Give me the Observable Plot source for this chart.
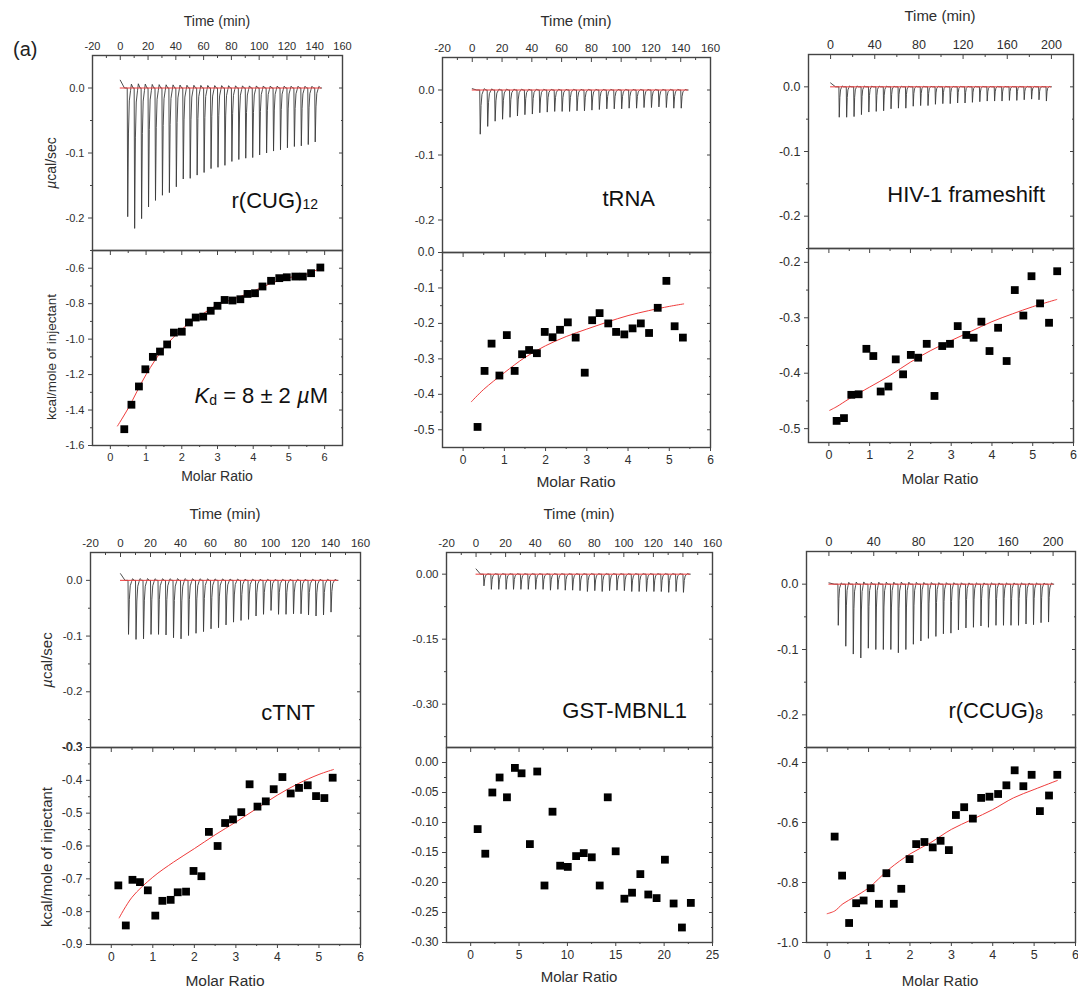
<!DOCTYPE html>
<html><head><meta charset="utf-8">
<script src="https://cdn.jsdelivr.net/npm/d3@7"></script>
<script src="https://cdn.jsdelivr.net/npm/@observablehq/plot@0.6"></script>
<style>
body{margin:0;background:#fff;}
#fig{position:relative;width:1078px;height:991px;overflow:hidden;background:#fff;font-family:"Liberation Sans",Arial,sans-serif;}
#fig svg{position:absolute;}
</style></head><body><div id="fig"></div>
<script>
// ---------------- data ----------------
const times5 = [5,10,15,20,25,30,35,40,45,50,55,60,65,70,75,80,85,90,95,100,105,110,115,120,125,130,135,140];
const timesHIV = [7.5,14.2,20.9,27.6,34.3,41.0,47.7,54.4,61.1,67.8,74.5,81.2,87.9,94.6,101.3,108.0,114.7,121.4,128.1,134.8,141.5,148.2,154.9,161.6,168.3,175.0,181.7,188.4,195.1];
const timesCCUG = [8.0,14.7,21.4,28.1,34.8,41.5,48.2,54.9,61.6,68.3,75.0,81.7,88.4,95.1,101.8,108.5,115.2,121.9,128.6,135.3,142.0,148.7,155.4,162.1,168.8,175.5,182.2,188.9,195.6];

const cugPeaks = [-0.198,-0.216,-0.201,-0.183,-0.173,-0.165,-0.161,-0.152,-0.140,-0.139,-0.134,-0.130,-0.124,-0.122,-0.119,-0.113,-0.110,-0.108,-0.107,-0.103,-0.100,-0.097,-0.095,-0.092,-0.090,-0.089,-0.087,-0.083];
const cugRatio = [0.39,0.59,0.80,0.98,1.19,1.39,1.59,1.78,2.00,2.20,2.39,2.60,2.81,3.00,3.20,3.42,3.64,3.84,4.05,4.26,4.50,4.73,4.94,5.18,5.39,5.62,5.88];
const cugHeat = [-1.508,-1.370,-1.267,-1.170,-1.100,-1.070,-1.030,-0.963,-0.958,-0.906,-0.878,-0.873,-0.840,-0.812,-0.779,-0.782,-0.775,-0.745,-0.741,-0.703,-0.671,-0.656,-0.651,-0.647,-0.647,-0.628,-0.596];
const cugFitX = [0.2,0.5,1.0,1.5,2.0,2.5,3.0,3.5,4.0,4.5,5.0,5.5,5.9];
const cugFitY = [-1.49,-1.39,-1.20,-1.05,-0.945,-0.87,-0.807,-0.77,-0.73,-0.685,-0.653,-0.634,-0.597];

const trnaPeaks = [-0.068,-0.056,-0.048,-0.045,-0.042,-0.040,-0.038,-0.037,-0.035,-0.034,-0.033,-0.033,-0.033,-0.032,-0.032,-0.031,-0.030,-0.029,-0.029,-0.029,-0.028,-0.028,-0.027,-0.027,-0.026,-0.027,-0.028,-0.028];
const trnaRatio = [0.35,0.52,0.69,0.88,1.06,1.25,1.43,1.60,1.79,1.98,2.17,2.35,2.54,2.73,2.95,3.13,3.31,3.52,3.71,3.91,4.11,4.31,4.51,4.72,4.93,5.13,5.33];
const trnaHeat = [-0.492,-0.334,-0.257,-0.347,-0.233,-0.334,-0.287,-0.275,-0.284,-0.224,-0.239,-0.218,-0.197,-0.240,-0.339,-0.191,-0.171,-0.200,-0.224,-0.231,-0.214,-0.200,-0.227,-0.156,-0.080,-0.208,-0.240];
const trnaFitX = [0.2,0.5,1.0,1.5,2.0,2.5,3.0,3.5,4.0,4.5,5.0,5.35];
const trnaFitY = [-0.421,-0.386,-0.339,-0.296,-0.263,-0.237,-0.216,-0.196,-0.178,-0.164,-0.152,-0.145];

const hivPeaks = [-0.047,-0.047,-0.046,-0.043,-0.039,-0.038,-0.037,-0.034,-0.033,-0.033,-0.030,-0.029,-0.029,-0.027,-0.026,-0.026,-0.025,-0.025,-0.024,-0.023,-0.022,-0.022,-0.022,-0.021,-0.021,-0.020,-0.019,-0.020,-0.022];
const hivRatio = [0.19,0.37,0.55,0.73,0.92,1.09,1.27,1.46,1.64,1.82,2.01,2.19,2.40,2.59,2.78,2.97,3.16,3.37,3.55,3.74,3.94,4.15,4.36,4.56,4.77,4.97,5.18,5.40,5.60];
const hivHeat = [-0.486,-0.481,-0.439,-0.438,-0.356,-0.369,-0.433,-0.424,-0.375,-0.402,-0.367,-0.372,-0.347,-0.441,-0.351,-0.347,-0.315,-0.331,-0.336,-0.307,-0.360,-0.318,-0.378,-0.250,-0.296,-0.225,-0.274,-0.309,-0.216];
const hivFitX = [0.02,0.2,0.5,1.0,1.5,2.0,2.5,3.0,3.5,4.0,4.5,5.0,5.59];
const hivFitY = [-0.467,-0.460,-0.446,-0.425,-0.404,-0.380,-0.359,-0.341,-0.324,-0.307,-0.293,-0.280,-0.267];

const ctntPeaks = [-0.097,-0.106,-0.105,-0.097,-0.097,-0.098,-0.103,-0.105,-0.099,-0.095,-0.092,-0.087,-0.085,-0.080,-0.075,-0.072,-0.070,-0.064,-0.061,-0.054,-0.061,-0.061,-0.060,-0.060,-0.062,-0.064,-0.062,-0.057];
const ctntRatio = [0.17,0.35,0.51,0.69,0.88,1.06,1.23,1.43,1.60,1.80,1.98,2.17,2.35,2.56,2.74,2.93,3.13,3.33,3.52,3.72,3.91,4.12,4.32,4.52,4.73,4.93,5.13,5.33];
const ctntHeat = [-0.720,-0.842,-0.703,-0.710,-0.735,-0.812,-0.767,-0.764,-0.741,-0.739,-0.676,-0.692,-0.557,-0.600,-0.530,-0.519,-0.497,-0.412,-0.480,-0.464,-0.427,-0.390,-0.440,-0.423,-0.415,-0.448,-0.454,-0.392];
const ctntFitX = [0.19,0.5,1.0,1.5,2.0,2.5,3.0,3.5,4.0,4.5,5.0,5.35];
const ctntFitY = [-0.819,-0.756,-0.695,-0.649,-0.608,-0.566,-0.527,-0.486,-0.445,-0.410,-0.382,-0.367];

const gstPeaks = [-0.027,-0.035,-0.035,-0.035,-0.035,-0.035,-0.035,-0.035,-0.035,-0.037,-0.035,-0.037,-0.037,-0.038,-0.040,-0.038,-0.040,-0.038,-0.037,-0.038,-0.040,-0.040,-0.040,-0.040,-0.040,-0.042,-0.040,-0.042];
const gstRatio = [0.72,1.51,2.24,2.99,3.75,4.57,5.26,6.12,6.88,7.63,8.46,9.25,10.04,10.90,11.69,12.52,13.34,14.17,14.99,15.89,16.68,17.54,18.36,19.22,20.08,20.98,21.84,22.76];
const gstHeat = [-0.111,-0.152,-0.050,-0.025,-0.058,-0.009,-0.018,-0.136,-0.015,-0.205,-0.082,-0.172,-0.174,-0.156,-0.151,-0.158,-0.205,-0.058,-0.148,-0.227,-0.217,-0.186,-0.220,-0.226,-0.162,-0.235,-0.275,-0.234];

const ccugPeaks = [-0.063,-0.095,-0.107,-0.113,-0.098,-0.100,-0.100,-0.100,-0.105,-0.100,-0.092,-0.087,-0.083,-0.080,-0.076,-0.075,-0.070,-0.067,-0.066,-0.064,-0.066,-0.063,-0.063,-0.063,-0.063,-0.061,-0.062,-0.059,-0.058];
const ccugRatio = [0.18,0.36,0.53,0.70,0.88,1.05,1.25,1.43,1.61,1.79,1.99,2.15,2.35,2.55,2.74,2.94,3.11,3.31,3.52,3.72,3.92,4.13,4.33,4.53,4.74,4.94,5.14,5.36,5.56];
const ccugHeat = [-0.647,-0.777,-0.935,-0.869,-0.860,-0.819,-0.871,-0.769,-0.871,-0.821,-0.722,-0.672,-0.665,-0.683,-0.661,-0.692,-0.575,-0.549,-0.587,-0.518,-0.514,-0.505,-0.476,-0.426,-0.479,-0.441,-0.562,-0.510,-0.441];
const ccugFitX = [0,0.18,0.38,0.65,1.0,1.5,2.0,2.5,3.0,3.5,4.0,4.5,5.0,5.56];
const ccugFitY = [-0.904,-0.895,-0.871,-0.849,-0.818,-0.755,-0.705,-0.667,-0.623,-0.590,-0.557,-0.518,-0.490,-0.460];

// tick values
const timeTicksA = [-20,0,20,40,60,80,100,120,140,160];
const timeMinorA = [-10,10,30,50,70,90,110,130,150];
const timeTicksB = [0,40,80,120,160,200];
const timeMinorB = [20,60,100,140,180];
const powTicks = [-0.2,-0.1,0];
const powMinor = [-0.25,-0.15,-0.05];
const powTicksCTNT = [-0.3,-0.2,-0.1,0];
const powTicksGST = [-0.30,-0.15,0];
const powMinorGST = [-0.375,-0.225,-0.075];
const ratioTicks6 = [0,1,2,3,4,5,6];
const ratioMinor6 = [0.5,1.5,2.5,3.5,4.5,5.5];
const ratioTicks25 = [0,5,10,15,20,25];
const ratioMinor25 = [2.5,7.5,12.5,17.5,22.5];
const heatTicksCUG = [-1.6,-1.4,-1.2,-1.0,-0.8,-0.6];
const heatMinorCUG = [-1.5,-1.3,-1.1,-0.9,-0.7];
const heatTicksTRNA = [-0.5,-0.4,-0.3,-0.2,-0.1,0];
const heatMinorTRNA = [-0.45,-0.35,-0.25,-0.15,-0.05];
const heatTicksHIV = [-0.5,-0.4,-0.3,-0.2];
const heatMinorHIV = [-0.45,-0.35,-0.25];
const heatTicksCTNT = [-0.9,-0.8,-0.7,-0.6,-0.5,-0.4,-0.3];
const heatMinorCTNT = [-0.85,-0.75,-0.65,-0.55,-0.45,-0.35];
const heatTicksGST = [-0.30,-0.25,-0.20,-0.15,-0.10,-0.05,0];
const heatMinorGST = [-0.275,-0.225,-0.175,-0.125,-0.075,-0.025];
const heatTicksCCUG = [-1.0,-0.8,-0.6,-0.4];
const heatMinorCCUG = [-0.9,-0.7,-0.5];

// ---------------- drawing ----------------
const fig = document.getElementById("fig");
const RED = "#ef3b3b", INK = "#3a3a3a", AXC = "#444", TXT = "#2e2e2e";
const M = {l: 50, r: 10, t: 24, b: 24};

function thermogram(times, peaks, start) {
  const pts = [{t: 0, v: start}, {t: times[0] * 0.6, v: 0}];
  times.forEach((t, i) => {
    const d = peaks[i];
    pts.push({t, v: 0}, {t: t + 0.35, v: d}, {t: t + 0.9, v: d * 0.35},
             {t: t + 1.5, v: d * 0.1}, {t: t + 2.4, v: d * 0.02},
             {t: t + 3.0, v: -d * 0.03}, {t: t + 4.2, v: 0});
  });
  pts.push({t: times[times.length - 1] + 5, v: 0});
  return pts;
}

function axesMarks(xMaj, xMin, yMaj, yMin, xFmt, yFmt, xLabelAnchor) {
  const common = {stroke: AXC, label: null};
  const m = [];
  if (xLabelAnchor === "top") {
    m.push(Plot.axisX(xMaj, {...common, anchor: "top", tickSize: 0, tickPadding: 6, fill: TXT, tickFormat: xFmt}));
    m.push(Plot.axisX(xMaj, {...common, anchor: "top", tickSize: 4, dy: 4, fill: "none"}));
    m.push(Plot.axisX(xMin, {...common, anchor: "top", tickSize: 2, dy: 2, fill: "none"}));
  } else {
    m.push(Plot.axisX(xMaj, {...common, anchor: "bottom", tickSize: 4, tickPadding: 4, fill: TXT, tickFormat: xFmt}));
    m.push(Plot.axisX(xMin, {...common, anchor: "bottom", tickSize: 2, fill: "none"}));
    m.push(Plot.axisX(xMaj, {...common, anchor: "top", tickSize: 4, dy: 4, fill: "none"}));
    m.push(Plot.axisX(xMin, {...common, anchor: "top", tickSize: 2, dy: 2, fill: "none"}));
  }
  m.push(Plot.axisY(yMaj, {...common, anchor: "left", tickSize: 4, tickPadding: 4, fill: TXT, tickFormat: yFmt}));
  m.push(Plot.axisY(yMin, {...common, anchor: "left", tickSize: 2, fill: "none"}));
  m.push(Plot.axisY(yMaj, {...common, anchor: "right", tickSize: 4, dx: -4, fill: "none"}));
  m.push(Plot.axisY(yMin, {...common, anchor: "right", tickSize: 2, dx: -2, fill: "none"}));
  return m;
}

function subplot(x, y, w, h, xDomain, yDomain, fs, marks) {
  const p = Plot.plot({
    width: w + M.l + M.r, height: h + M.t + M.b,
    marginLeft: M.l, marginRight: M.r, marginTop: M.t, marginBottom: M.b,
    x: {domain: xDomain, label: null},
    y: {domain: yDomain, label: null},
    style: {fontFamily: "Liberation Sans, Arial, sans-serif", fontSize: fs + "px", background: "transparent", overflow: "visible", color: TXT},
    marks
  });
  p.style.position = "absolute";
  p.style.left = (x - M.l) + "px";
  p.style.top = (y - M.t) + "px";
  p.style.maxWidth = "none";
  fig.appendChild(p);
  return p;
}

const panels = [
  {x: 92, w: 250, y: 55, hT: 195, hB: 195, fsT: 11, fsB: 11,
   tDom: [-20, 160], tMaj: timeTicksA, tMin: timeMinorA, pDom: [-0.25, 0.05], pMaj: powTicks, pMin: powMinor, pDec: 1,
   times: times5, peaks: cugPeaks, start: 0.012,
   rDom: [-0.5, 6.5], rMaj: ratioTicks6, rMin: ratioMinor6, hDom: [-1.6, -0.5], hMaj: heatTicksCUG, hMin: heatMinorCUG, hDec: 1,
   ratio: cugRatio, heat: cugHeat, fitX: cugFitX, fitY: cugFitY},
  {x: 442, w: 268, y: 57, hT: 195, hB: 195, fsT: 11.5, fsB: 12,
   tDom: [-20, 160], tMaj: timeTicksA, tMin: timeMinorA, pDom: [-0.25, 0.05], pMaj: powTicks, pMin: powMinor, pDec: 1,
   times: times5, peaks: trnaPeaks, start: 0.002,
   rDom: [-0.5, 6], rMaj: ratioTicks6, rMin: ratioMinor6, hDom: [-0.55, 0], hMaj: heatTicksTRNA, hMin: heatMinorTRNA, hDec: 1,
   ratio: trnaRatio, heat: trnaHeat, fitX: trnaFitX, fitY: trnaFitY},
  {x: 808, w: 265, y: 54, hT: 194, hB: 194, fsT: 12.5, fsB: 12.5,
   tDom: [-20, 220], tMaj: timeTicksB, tMin: timeMinorB, pDom: [-0.25, 0.05], pMaj: powTicks, pMin: powMinor, pDec: 1,
   times: timesHIV, peaks: hivPeaks, start: 0.006,
   rDom: [-0.5, 6], rMaj: ratioTicks6, rMin: ratioMinor6, hDom: [-0.525, -0.175], hMaj: heatTicksHIV, hMin: heatMinorHIV, hDec: 1,
   ratio: hivRatio, heat: hivHeat, fitX: hivFitX, fitY: hivFitY},
  {x: 90, w: 270, y: 552, hT: 195, hB: 197, fsT: 11.5, fsB: 12,
   tDom: [-20, 160], tMaj: timeTicksA, tMin: timeMinorA, pDom: [-0.3, 0.05], pMaj: powTicksCTNT, pMin: powMinor, pDec: 1,
   times: times5, peaks: ctntPeaks, start: 0.012,
   rDom: [-0.5, 6], rMaj: ratioTicks6, rMin: ratioMinor6, hDom: [-0.9, -0.3], hMaj: heatTicksCTNT, hMin: heatMinorCTNT, hDec: 1,
   ratio: ctntRatio, heat: ctntHeat, fitX: ctntFitX, fitY: ctntFitY},
  {x: 446, w: 266, y: 552, hT: 195, hB: 195, fsT: 11.5, fsB: 12,
   tDom: [-20, 160], tMaj: timeTicksA, tMin: timeMinorA, pDom: [-0.4, 0.05], pMaj: powTicksGST, pMin: powMinorGST, pDec: 2,
   times: times5, peaks: gstPeaks, start: 0.012,
   rDom: [-2.5, 25], rMaj: ratioTicks25, rMin: ratioMinor25, hDom: [-0.30, 0.025], hMaj: heatTicksGST, hMin: heatMinorGST, hDec: 2,
   ratio: gstRatio, heat: gstHeat, fitX: null, fitY: null},
  {x: 806, w: 269, y: 551, hT: 196, hB: 195, fsT: 12.5, fsB: 12.5,
   tDom: [-20, 220], tMaj: timeTicksB, tMin: timeMinorB, pDom: [-0.25, 0.05], pMaj: powTicks, pMin: powMinor, pDec: 1,
   times: timesCCUG, peaks: ccugPeaks, start: 0.002,
   rDom: [-0.5, 6], rMaj: ratioTicks6, rMin: ratioMinor6, hDom: [-1.0, -0.35], hMaj: heatTicksCCUG, hMin: heatMinorCCUG, hDec: 1,
   ratio: ccugRatio, heat: ccugHeat, fitX: ccugFitX, fitY: ccugFitY}
];

panels.forEach(P => {
  const trace = thermogram(P.times, P.peaks, P.start);
  const tEnd = P.times[P.times.length - 1] + 5;
  subplot(P.x, P.y, P.w, P.hT, P.tDom, P.pDom, P.fsT, [
    ...axesMarks(P.tMaj, P.tMin, P.pMaj, P.pMin, d => String(d), d => d.toFixed(P.pDec), "top"),
    Plot.line(trace, {x: "t", y: "v", stroke: INK, strokeWidth: 0.9}),
    Plot.ruleY([0], {x1: 0, x2: tEnd, stroke: RED, strokeWidth: 1}),
    Plot.frame({stroke: AXC, strokeWidth: 1.4})
  ]);
  const pts = P.ratio.map((r, i) => ({r, h: P.heat[i]}));
  const marks = [...axesMarks(P.rMaj, P.rMin, P.hMaj, P.hMin, d => String(d), d => d.toFixed(P.hDec), "bottom")];
  if (P.fitX) {
    const fit = P.fitX.map((r, i) => ({r, h: P.fitY[i]}));
    marks.push(Plot.line(fit, {x: "r", y: "h", stroke: RED, strokeWidth: 1, curve: "catmull-rom"}));
  }
  marks.push(Plot.dot(pts, {x: "r", y: "h", symbol: "square", r: 4.4, fill: "#000", stroke: "none"}));
  marks.push(Plot.frame({stroke: AXC, strokeWidth: 1.4}));
  subplot(P.x, P.y + P.hT, P.w, P.hB, P.rDom, P.hDom, P.fsB, marks);
});

// ---------------- text overlay ----------------
const ov = d3.create("svg").attr("width", 1078).attr("height", 991)
  .style("left", "0px").style("top", "0px").style("pointer-events", "none")
  .attr("font-family", "Liberation Sans, Arial, sans-serif").attr("fill", "#222");

ov.append("text").attr("x", 13).attr("y", 56).attr("font-size", 20).text("(a)");

const timeTitles = [[217, 22, 14], [576, 22, 15], [940, 17, 15], [225, 515, 15], [579, 515, 15]];
timeTitles.forEach(([x, y, s]) => ov.append("text").attr("x", x).attr("y", y).attr("font-size", s)
  .attr("text-anchor", "middle").attr("dominant-baseline", "middle").attr("fill", TXT).text("Time (min)"));
const ratioTitles = [[217, 477, 14], [576, 483, 15.5], [940, 480, 15], [225, 982, 15.5], [579, 978, 15], [940, 982, 15]];
ratioTitles.forEach(([x, y, s]) => ov.append("text").attr("x", x).attr("y", y).attr("font-size", s)
  .attr("text-anchor", "middle").attr("dominant-baseline", "middle").attr("fill", TXT).text("Molar Ratio"));

function vTitle(x, y, s, parts) {
  const t = ov.append("text").attr("transform", `translate(${x},${y}) rotate(-90)`).attr("font-size", s)
    .attr("text-anchor", "middle").attr("dominant-baseline", "middle").attr("fill", TXT);
  parts.forEach(p => { const sp = t.append("tspan").text(p.s); if (p.it) sp.attr("font-style", "italic"); });
}
vTitle(52, 163, 14, [{s: "µ", it: true}, {s: "cal/sec"}]);
vTitle(52, 357, 13.5, [{s: "kcal/mole of injectant"}]);
vTitle(48, 660, 15, [{s: "µ", it: true}, {s: "cal/sec"}]);
vTitle(48, 857, 15, [{s: "kcal/mole of injectant"}]);

function bigLabel(x, y, parts) {
  const t = ov.append("text").attr("x", x).attr("y", y).attr("text-anchor", "end").attr("font-size", 22).attr("fill", "#111");
  parts.forEach(p => {
    const s = t.append("tspan").text(p.s);
    if (p.sub) s.attr("font-size", 14).attr("dy", p.dy ?? 1);
    if (p.up) s.attr("dy", p.up);
    if (p.it) s.attr("font-style", "italic");
  });
}
bigLabel(318, 208, [{s: "r(CUG)"}, {s: "12", sub: true}]);
bigLabel(328, 403, [{s: "K", it: true}, {s: "d", sub: true, dy: 2}, {s: " = 8 ± 2 ", up: -2}, {s: "µ", it: true}, {s: "M"}]);
bigLabel(655, 206, [{s: "tRNA"}]);
bigLabel(1045, 202, [{s: "HIV-1 frameshift"}]);
bigLabel(315, 720, [{s: "cTNT"}]);
bigLabel(687, 718, [{s: "GST-MBNL1"}]);
bigLabel(1043, 718, [{s: "r(CCUG)"}, {s: "8", sub: true}]);

fig.appendChild(ov.node());
</script></body></html>
